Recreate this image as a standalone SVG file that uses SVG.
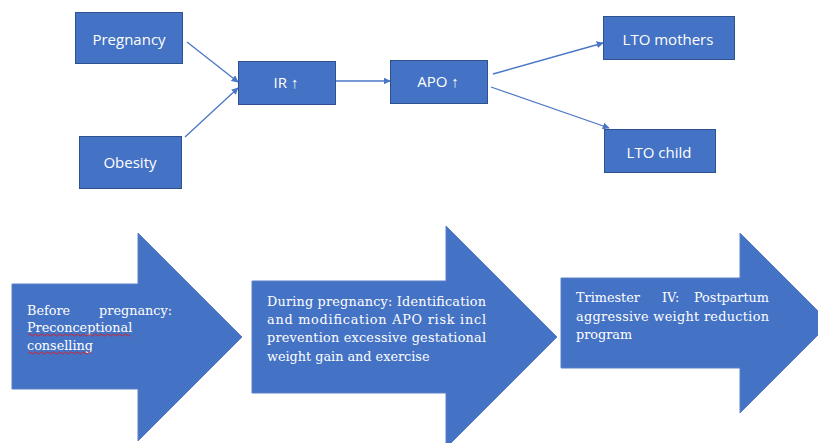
<svg xmlns="http://www.w3.org/2000/svg" width="818" height="443" viewBox="0 0 818 443">
<defs>
<style>
.box{fill:#4472C4;stroke:#2F528F;stroke-width:1}
.lbl{font-family:"Open Sans","Noto Sans","Liberation Sans",sans-serif;font-size:15px;fill:#fff;text-anchor:middle}
.big{fill:#4472C4;stroke:#5a80c8;stroke-width:1}
.st{font-family:"DejaVu Serif","Liberation Serif",serif;font-size:12.8px;fill:#fff}
.con{stroke:#4a76c6;stroke-width:1.3;fill:none;marker-end:url(#ah)}
.sq{stroke:#d9202a;stroke-width:1;fill:none}
</style>
<marker id="ah" viewBox="0 0 10 10" refX="9" refY="5" markerWidth="7" markerHeight="7" orient="auto" markerUnits="userSpaceOnUse">
<path d="M0,0 L10,5 L0,10 z" fill="#4a76c6"/>
</marker>
</defs>
<rect width="818" height="443" fill="#fff"/>
<g id="connectors">
<line class="con" x1="187" y1="42" x2="238" y2="82"/>
<line class="con" x1="185" y1="137" x2="238" y2="88"/>
<line class="con" x1="335" y1="81" x2="390" y2="81"/>
<line class="con" x1="493" y1="74" x2="603" y2="43"/>
<line class="con" x1="491" y1="87" x2="609" y2="128"/>
</g>
<g id="pregnancy"><rect class="box" x="75.5" y="12.5" width="107" height="51"/><text class="lbl" x="129" y="45">Pregnancy</text></g>
<g id="obesity"><rect class="box" x="79.5" y="136.5" width="102" height="52"/><text class="lbl" x="130" y="168">Obesity</text></g>
<g id="ir"><rect class="box" x="238.5" y="61.5" width="97" height="43"/><text class="lbl" x="286" y="88">IR ↑</text></g>
<g id="apo"><rect class="box" x="390.5" y="60.5" width="97" height="43"/><text class="lbl" x="438" y="87">APO ↑</text></g>
<g id="lto-mothers"><rect class="box" x="603.5" y="16.5" width="131" height="43"/><text class="lbl" x="668" y="45">LTO mothers</text></g>
<g id="lto-child"><rect class="box" x="604.5" y="129.5" width="111" height="43"/><text class="lbl" x="659" y="158">LTO child</text></g>
<g id="before-pregnancy">
<polygon class="big" points="12,284 138,284 138,233 242,337 138,441 138,389 12,389"/>
<text class="st" x="27" y="315">Before</text>
<text class="st" x="172" y="315" text-anchor="end">pregnancy:</text>
<text class="st" x="27" y="332">Preconceptional</text>
<text class="st" x="27" y="350">conselling</text>
<path class="sq" d="M28,335 q1.5,-2 3,0 t3,0 t3,0 t3,0 t3,0 t3,0 t3,0 t3,0 t3,0 t3,0 t3,0 t3,0 t3,0 t3,0 t3,0 t3,0 t3,0 t3,0 t3,0 t3,0 t3,0 t3,0 t3,0 t3,0 t3,0 t3,0 t3,0 t3,0 t3,0 t3,0 t3,0 t3,0 t3,0 t3,0"/>
<path class="sq" d="M28,353 q1.5,-2 3,0 t3,0 t3,0 t3,0 t3,0 t3,0 t3,0 t3,0 t3,0 t3,0 t3,0 t3,0 t3,0 t3,0 t3,0 t3,0 t3,0 t3,0 t3,0 t3,0 t3,0"/>
</g>
<g id="during-pregnancy">
<polygon class="big" points="252,281 446,281 446,226 557,337 446,448 446,393 252,393"/>
<text class="st" x="267" y="306" textLength="219" lengthAdjust="spacing">During pregnancy: Identification</text>
<text class="st" x="267" y="324" textLength="219" lengthAdjust="spacing">and modification APO risk incl</text>
<text class="st" x="267" y="342" textLength="219" lengthAdjust="spacing">prevention excessive gestational</text>
<text class="st" x="267" y="361">weight gain and exercise</text>
</g>
<g id="trimester-iv">
<polygon class="big" points="561,278 740,278 740,233 830,323 740,413 740,368 561,368"/>
<text class="st" x="576" y="302">Trimester</text>
<text class="st" x="662" y="302">IV:</text>
<text class="st" x="769" y="302" text-anchor="end">Postpartum</text>
<text class="st" x="576" y="321" textLength="193" lengthAdjust="spacing">aggressive weight reduction</text>
<text class="st" x="576" y="339">program</text>
</g>
</svg>
